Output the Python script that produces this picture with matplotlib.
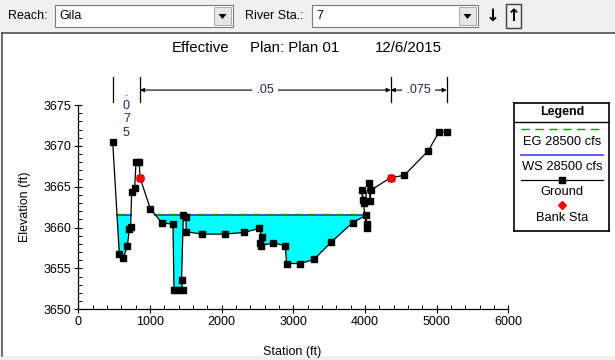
import numpy as np
import matplotlib
matplotlib.use("Agg")
import matplotlib.pyplot as plt
from matplotlib.patches import Rectangle, Polygon
from matplotlib.lines import Line2D
import matplotlib.transforms as mtransforms

plt.rcParams['font.family'] = ['Liberation Sans', 'DejaVu Sans']

reach = "Gila"
river_sta = "7"
title_parts = ["Effective", "Plan: Plan 01", "12/6/2015"]
flow_label = "28500 cfs"

# cross section ground points (station ft, elevation ft)
ground_sta = [480, 572, 628, 684, 712, 730, 745, 787, 805, 851, 861,
              1005, 1163, 1321, 1335, 1395, 1455, 1440, 1466, 1500, 1507,
              1722, 2040, 2310, 2525, 2558, 2542, 2546, 2720, 2888, 2907,
              3093, 3289, 3526, 3829, 4010, 4024, 4028, 3968, 3955, 3986,
              4061, 4070, 4084, 4359, 4549, 4884, 5033, 5140]
ground_elev = [3670.5, 3656.8, 3656.3, 3657.7, 3659.8, 3660.1, 3664.4, 3664.9,
               3668.0, 3668.0, 3666.1,
               3662.3, 3660.6, 3660.4, 3652.4, 3652.4, 3652.4, 3653.6, 3661.5,
               3661.3, 3659.5,
               3659.2, 3659.2, 3659.4, 3659.9, 3658.9, 3658.1, 3657.8, 3658.1,
               3657.8, 3655.6,
               3655.6, 3656.1, 3658.2, 3660.6, 3661.5, 3660.4, 3660.0, 3663.4,
               3664.6, 3663.0,
               3665.4, 3663.2, 3664.6, 3666.1, 3666.4, 3669.4, 3671.7, 3671.7]

bank_sta = [861, 4359]
bank_elev = [3666.1, 3666.1]

ws_elev = 3661.6
eg_elev = 3661.7

n_values = [".075", ".05", ".075"]

W, H = 615, 360
fig = plt.figure(figsize=(W / 100, H / 100), dpi=100, facecolor='#f0f0f0')


def fx(px):
    return px / W


def fy(py):
    return 1 - py / H


# --- toolbar ---
def combo(x0, x1, text):
    fig.patches.append(Rectangle((fx(x0), fy(27)), fx(x1 - x0), (22) / H,
                                 transform=fig.transFigure, facecolor='white',
                                 edgecolor='#7a7a7a', lw=0.8))
    fig.patches.append(Rectangle((fx(x1 - 19), fy(25)), fx(17), 18 / H,
                                 transform=fig.transFigure, facecolor='#e6e6e6',
                                 edgecolor='#a0a0a0', lw=0.6))
    cx = x1 - 10.5
    fig.patches.append(Polygon([(fx(cx - 4), fy(14)), (fx(cx + 4), fy(14)),
                                (fx(cx), fy(19))], closed=True,
                               transform=fig.transFigure, facecolor='black'))
    fig.text(fx(x0 + 4), fy(16), text, fontsize=9, va='center', ha='left')


fig.text(fx(8), fy(16), "Reach:", fontsize=9, va='center', ha='left')
combo(55, 233, reach)
fig.text(fx(245), fy(16), "River Sta.:", fontsize=9, va='center', ha='left')
combo(312, 478, river_sta)
fig.text(fx(493), fy(16), "\u2193", fontsize=12, fontweight='bold',
         family='DejaVu Sans', va='center', ha='center')
fig.patches.append(Rectangle((fx(506), fy(28)), fx(15), 24 / H,
                             transform=fig.transFigure, facecolor='#f0f0f0',
                             edgecolor='#404040', lw=1.0))
fig.text(fx(513.5), fy(16), "\u2191", fontsize=12, fontweight='bold',
         family='DejaVu Sans', va='center', ha='center')

# plot panel, kept behind the axes
fig.patches.append(Rectangle((fx(1), fy(356)), fx(614), 323 / H,
                             transform=fig.transFigure, facecolor='white',
                             edgecolor='none', zorder=-5))
fig.lines.append(Line2D([fx(1.5), fx(1.5)], [fy(33), fy(356)],
                        transform=fig.transFigure, color='#505050', lw=1.2))
fig.lines.append(Line2D([fx(1.5), fx(615)], [fy(33), fy(33)],
                        transform=fig.transFigure, color='#505050', lw=1.2))

for part, left in zip(title_parts, [172, 250, 375]):
    fig.text(fx(left), fy(48), part, fontsize=10.8, ha='left', va='center')

# --- main axes ---
ax = fig.add_axes([fx(78.3), fy(309.3), fx(430), 204.3 / H])
ax.set_facecolor('white')
ax.set_zorder(2)

x = np.array(ground_sta, dtype=float)
y = np.array(ground_elev, dtype=float)

# wetted pieces of the section below the water surface
pieces = []
cur = None
for i in range(len(x)):
    if y[i] < ws_elev:
        if cur is None:
            t = (ws_elev - y[i - 1]) / (y[i] - y[i - 1])
            cur = [(x[i - 1] + t * (x[i] - x[i - 1]), ws_elev)]
        cur.append((x[i], y[i]))
    elif cur is not None:
        t = (ws_elev - y[i - 1]) / (y[i] - y[i - 1])
        cur.append((x[i - 1] + t * (x[i] - x[i - 1]), ws_elev))
        pieces.append(cur)
        cur = None

for p in pieces:
    ax.add_patch(Polygon(p, closed=True, facecolor='#00ffff',
                         edgecolor='none', zorder=1))
    xs = [p[0][0], p[-1][0]]
    ax.plot(xs, [ws_elev, ws_elev], color='#3030ff', lw=1.2, zorder=2)
    ax.plot(xs, [eg_elev, eg_elev], color='#00a000', lw=1.0,
            dashes=(6, 4), zorder=3)

ax.plot(x, y, color='black', lw=0.9, marker='s', ms=4.7, zorder=4)
ax.plot(bank_sta, bank_elev, 'o', color='red', ms=5.2, zorder=5)

ax.set_xlim(0, 6000)
ax.set_ylim(3650, 3675)
ax.set_xticks(np.arange(0, 6001, 1000))
ax.set_yticks(np.arange(3650, 3676, 5))
ax.set_xticks(np.arange(0, 6001, 200), minor=True)
ax.set_yticks(np.arange(3650, 3676, 1), minor=True)
ax.tick_params(which='major', direction='inout', length=6, width=0.8,
               labelsize=9, pad=2)
ax.tick_params(which='minor', direction='in', length=3, width=0.7)
for s in ['top', 'right']:
    ax.spines[s].set_visible(False)
for s in ['left', 'bottom']:
    ax.spines[s].set_linewidth(0.9)

ax.set_xlabel("Station (ft)", fontsize=9)
ax.set_ylabel("Elevation (ft)", fontsize=9)
ax.xaxis.set_label_coords(0.497, -0.178)
ax.yaxis.set_label_coords(-0.11, 0.5)

# Manning's n regions above the section
trans = mtransforms.blended_transform_factory(ax.transData, ax.transAxes)
n_sta = [ground_sta[0], bank_sta[0], bank_sta[1], ground_sta[-1]]
for s in n_sta:
    ax.plot([s, s], [1.015, 1.137], color='black', lw=0.9,
            transform=trans, clip_on=False)
for i, nv in enumerate(n_values):
    a, b = n_sta[i], n_sta[i + 1]
    mid = (a + b) / 2
    if b - a < 600:
        for k, ch in enumerate(nv):
            ax.text(mid, 1.06 - k * 0.065, ch, transform=trans, fontsize=9,
                    ha='center', va='center', color='#1a2a50', clip_on=False)
        continue
    ax.annotate("", xy=(a, 1.073), xytext=(mid, 1.073), xycoords=trans,
                textcoords=trans,
                arrowprops=dict(arrowstyle='-|>', lw=0.8, color='black',
                                mutation_scale=6, shrinkA=0, shrinkB=0))
    ax.annotate("", xy=(b, 1.073), xytext=(mid, 1.073), xycoords=trans,
                textcoords=trans,
                arrowprops=dict(arrowstyle='-|>', lw=0.8, color='black',
                                mutation_scale=6, shrinkA=0, shrinkB=0))
    ax.text(mid, 1.073, " " + nv + " ", transform=trans, fontsize=9,
            ha='center', va='center', color='#1a2a50',
            bbox=dict(facecolor='white', edgecolor='none', pad=0.5),
            clip_on=False)

# --- legend box ---
lg = fig.add_axes([fx(514.3), fy(230.7), fx(95), 127.4 / H])
lg.set_zorder(2)
lg.set_xlim(514.3, 609.3)
lg.set_ylim(230.7, 103.3)
lg.set_xticks([])
lg.set_yticks([])
for s in lg.spines.values():
    s.set_linewidth(1.2)
lg.axhline(121.7, color='black', lw=1.0)
lg.text(561.8, 112, "Legend", fontsize=9, fontweight='bold',
        ha='center', va='center')
lg.plot([521, 603], [129, 129], color='#00a000', lw=1.0, dashes=(6, 4))
lg.text(561.8, 141.7, "EG " + flow_label, fontsize=9.3, ha='center', va='center')
lg.plot([521, 603], [155, 155], color='#5050ff', lw=1.3)
lg.text(561.8, 166.7, "WS " + flow_label, fontsize=9.3, ha='center', va='center')
lg.plot([521, 603], [180, 180], color='black', lw=0.9)
lg.plot([561.8], [180], 's', color='black', ms=4.5)
lg.text(561.8, 191.7, "Ground", fontsize=9.3, ha='center', va='center')
lg.plot([561.8], [205], 'D', color='red', ms=4)
lg.text(561.8, 218.3, "Bank Sta", fontsize=9.3, ha='center', va='center')

fig.savefig("out.png", dpi=100, facecolor=fig.get_facecolor())
